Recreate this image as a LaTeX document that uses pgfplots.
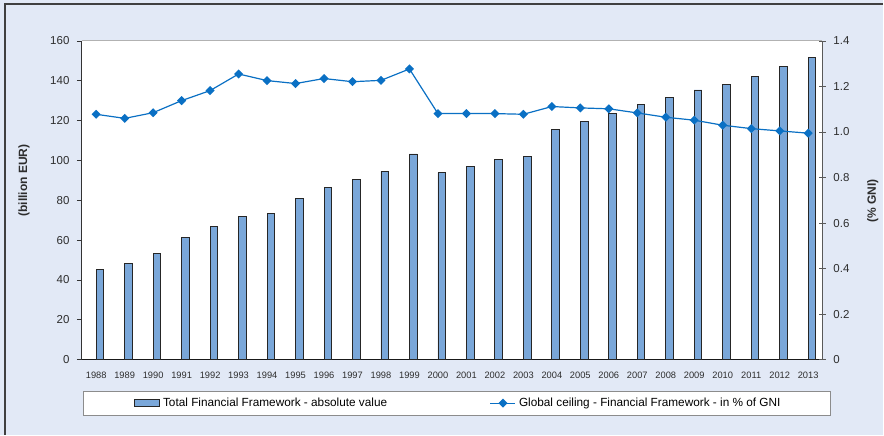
\documentclass[border=0pt]{standalone}
\usepackage{fontspec}
\setmainfont{Liberation Sans}
\usepackage{pgfplots}
\usepackage{pgfplotstable}
\pgfplotsset{compat=1.18}
\definecolor{bgblue}{RGB}{226,233,246}
\definecolor{barfill}{RGB}{122,167,217}
\definecolor{linecol}{RGB}{10,112,196}
\definecolor{txt}{RGB}{45,45,45}
\pgfplotsset{
  mylinelegend/.style={legend image code/.code={\draw[##1, mark repeat=2, mark phase=2] plot coordinates {(0pt,0pt) (12.5pt,0pt) (25pt,0pt)};}},
  mybarlegend/.style={legend image code/.code={\draw[fill=barfill,draw=black!85,line width=0.8pt] (0pt,-3.5pt) rectangle (25pt,3.5pt);}}
}

\pgfplotstableread{
x val pct
0 45.1 1.078
1 48.5 1.060
2 53.5 1.085
3 61.5 1.138
4 66.9 1.182
5 72.1 1.255
6 73.5 1.226
7 81.0 1.213
8 86.6 1.235
9 90.3 1.221
10 94.6 1.227
11 103.3 1.277
12 93.8 1.081
13 97.1 1.081
14 100.6 1.081
15 102.0 1.078
16 115.4 1.112
17 119.4 1.106
18 123.7 1.102
19 128.0 1.084
20 131.6 1.065
21 135.4 1.052
22 138.3 1.030
23 142.4 1.015
24 147.1 1.005
25 151.8 0.995
}\data

\begin{document}
\begin{tikzpicture}[x=1pt,y=1pt]
\fill[bgblue] (0,0) rectangle (884,435);
\draw[black!75, line width=1.3pt] (5,0) -- (5,431) -- (884,431);
\fill[white] (82,75) rectangle (823,394);
\draw[black!30, line width=1pt] (82,394) -- (823,394);

\begin{axis}[
  at={(82pt,75pt)}, anchor=south west, scale only axis,
  width=741pt, height=319pt,
  xmin=-0.5, xmax=25.5, ymin=0, ymax=160,
  axis x line*=bottom, axis y line*=left,
  axis line style={-},
  x axis line style={black!90, line width=1pt},
  y axis line style={black!80, line width=1pt},
  tick align=outside, major tick length=5pt, minor tick length=6pt,
  ytick={0,20,40,60,80,100,120,140,160},
  yticklabels={0,20,40,60,80,100,120,140,160},
  ytick style={black!80, line width=0.8pt},
  xtick={0,...,25},
  xticklabels={1988,1989,1990,1991,1992,1993,1994,1995,1996,1997,1998,1999,2000,2001,2002,2003,2004,2005,2006,2007,2008,2009,2010,2011,2012,2013},
  xtick style={draw=none},
  minor xtick={0.5,1.5,...,24.5},
  minor x tick style={yshift=2pt, black!90, line width=0.8pt},
  yticklabel style={font=\fontsize{11.5}{13}\selectfont, text=txt, xshift=-4pt},
  xticklabel style={font=\fontsize{9.3}{11}\selectfont, text=txt, yshift=-4pt},
  /pgf/number format/assume math mode=true,
  ylabel={(billion EUR)},
  ylabel style={at={(rel axis cs:-0.0783,0.5627)}, anchor=center, rotate=0, font=\bfseries\fontsize{12}{14}\selectfont, text=txt},
]
\addplot[ybar, bar width=0.267, bar shift=0.133, fill=barfill, draw=black!85, line width=0.8pt] table[x=x,y=val]{\data};
\end{axis}

\begin{axis}[
  at={(82pt,75pt)}, anchor=south west, scale only axis,
  width=741pt, height=319pt,
  xmin=-0.5, xmax=25.5, ymin=0, ymax=1.4,
  axis x line=none, axis y line*=right,
  axis line style={-},
  y axis line style={black!65, line width=1pt},
  tick align=center, major tick length=7pt,
  ytick={0,0.2,0.4,0.6,0.8,1.0,1.2,1.4},
  yticklabels={0,0.2,0.4,0.6,0.8,1.0,1.2,1.4},
  ytick style={black!65, line width=0.8pt},
  yticklabel style={font=\fontsize{11.5}{13}\selectfont, text=txt, xshift=4pt},
  /pgf/number format/assume math mode=true,
  ylabel={(\% GNI)},
  ylabel style={at={(rel axis cs:1.0681,0.498)}, anchor=center, rotate=0, font=\bfseries\fontsize{12}{14}\selectfont, text=txt},
  legend columns=2,
  legend style={at={(rel axis cs:0.00135,-0.0972)}, anchor=north west,
    draw=black!45, line width=0.8pt, fill=white,
    inner xsep=51pt, inner ysep=7pt,
    nodes={inner sep=0pt, font=\fontsize{11.8}{13}\selectfont, text=black},
    /tikz/every odd column/.append style={column sep=3pt},
    /tikz/every even column/.append style={column sep=7pt}},
]
\addlegendimage{mybarlegend}
\addlegendentry{\makebox[320pt][l]{Total Financial Framework - absolute value}}
\addplot[linecol, line width=1.2pt, mark=square*, mark size=2.6pt, mark options={rotate=45, solid}, mylinelegend]
  table[x=x,y=pct]{\data};
\addlegendentry{\makebox[261pt][l]{Global ceiling - Financial Framework - in \% of GNI}}
\end{axis}
\end{tikzpicture}
\end{document}
